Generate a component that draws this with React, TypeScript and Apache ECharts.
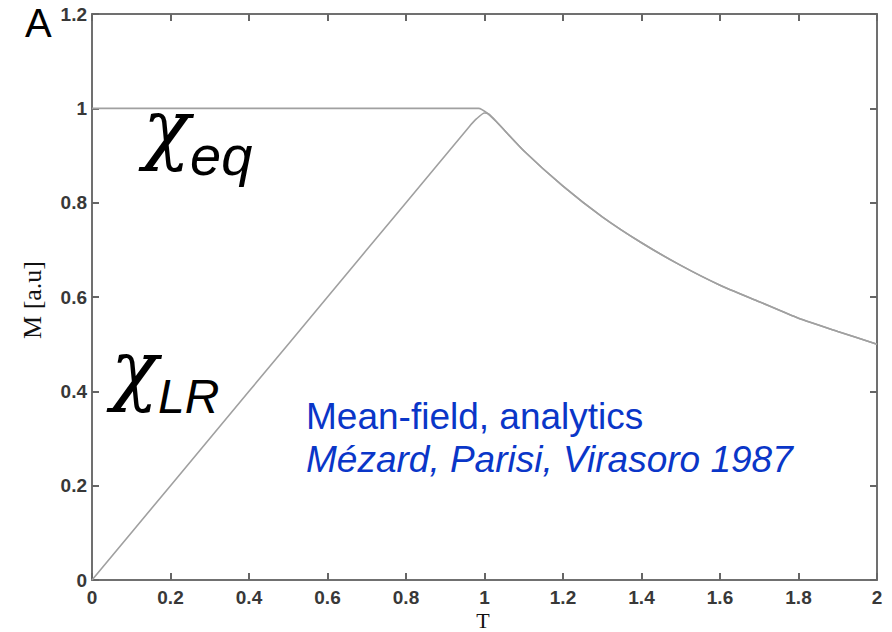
import React, { useEffect, useRef } from "react";
import * as echarts from "echarts";

// Temperature grid and curves: equilibrium and linear-response susceptibility
const tLR = [0, 0.2, 0.4, 0.6, 0.8, 0.96, 0.98, 1.0];
const chiLRLow = [0, 0.2, 0.4, 0.6, 0.8, 0.96, 0.978, 0.99];
const tEqLow = [0, 0.985];
const chiEqLow = [1, 1];
const tHigh = [1.01, 1.03, 1.1, 1.2, 1.3, 1.4, 1.5, 1.6, 1.7, 1.8, 1.9, 2.0];
const chiHigh = [0.988, 0.972, 0.91, 0.835, 0.77, 0.715, 0.667, 0.625, 0.59, 0.555, 0.527, 0.5];

const xTicks = { min: 0, max: 2, interval: 0.2 };
const yTicks = { min: 0, max: 1.2, interval: 0.2 };

const pairs = (xs: number[], ys: number[]) => xs.map((x, i) => [x, ys[i]]);

const AXIS = "#707070";
const CURVE = "#a0a0a0";
const BLUE = "#0a36c8";
const SANS = "'Liberation Sans', Arial, Helvetica, sans-serif";
const SERIF = "'Liberation Serif', 'Times New Roman', serif";
const GREEK = "'DejaVu Serif', serif";

export default function App() {
  const ref = useRef<HTMLDivElement>(null);

  useEffect(() => {
    if (!ref.current) return;
    const chart = echarts.init(ref.current, undefined, { renderer: "svg" });

    const axisLine = { show: true, onZero: false, lineStyle: { color: AXIS, width: 2 } };
    const axisTick = { show: true, inside: true, length: 7, lineStyle: { color: "#666", width: 2 } };
    const labelStyle = { color: "#383838", fontSize: 19, fontWeight: "bold" as const, fontFamily: SANS };

    chart.setOption({
      animation: false,
      backgroundColor: "#ffffff",
      grid: { left: 92, top: 14, right: 15, bottom: 52, containLabel: false },
      xAxis: [
        {
          type: "value",
          ...xTicks,
          position: "bottom",
          axisLine,
          axisTick,
          splitLine: { show: false },
          axisLabel: { ...labelStyle, margin: 8 },
        },
        {
          type: "value",
          ...xTicks,
          position: "top",
          axisLine,
          axisTick,
          splitLine: { show: false },
          axisLabel: { show: false },
        },
      ],
      yAxis: [
        {
          type: "value",
          ...yTicks,
          position: "left",
          axisLine,
          axisTick,
          splitLine: { show: false },
          axisLabel: { ...labelStyle, margin: 5 },
        },
        {
          type: "value",
          ...yTicks,
          position: "right",
          axisLine,
          axisTick,
          splitLine: { show: false },
          axisLabel: { show: false },
        },
      ],
      series: [
        {
          name: "chi_eq",
          type: "line",
          showSymbol: false,
          smooth: 0.2,
          data: [...pairs(tEqLow, chiEqLow), ...pairs(tHigh, chiHigh)],
          lineStyle: { color: CURVE, width: 1.6 },
        },
        {
          name: "chi_LR",
          type: "line",
          showSymbol: false,
          smooth: 0.2,
          data: [...pairs(tLR, chiLRLow), ...pairs(tHigh, chiHigh)],
          lineStyle: { color: CURVE, width: 1.6 },
        },
      ],
      graphic: [
        { type: "text", left: 25, top: 3, style: { text: "A", fontSize: 40, fontFamily: SANS, fill: "#000" } },
        {
          type: "text",
          x: 483,
          y: 620,
          style: { text: "T", fontSize: 22, fontFamily: SERIF, fill: "#111", align: "center", verticalAlign: "middle" },
        },
        {
          type: "text",
          x: 32,
          y: 300,
          rotation: Math.PI / 2,
          style: { text: "M [a.u]", fontSize: 26, fontFamily: SERIF, fill: "#111", align: "center", verticalAlign: "middle" },
        },
        {
          type: "text",
          x: 143,
          y: 128,
          style: { text: "χ", fontSize: 78, fontStyle: "italic", fontFamily: GREEK, fill: "#000", verticalAlign: "middle" },
        },
        {
          type: "text",
          x: 190,
          y: 155,
          style: { text: "eq", fontSize: 56, fontStyle: "italic", fontFamily: SANS, fill: "#000", verticalAlign: "middle" },
        },
        {
          type: "text",
          x: 111,
          y: 369,
          style: { text: "χ", fontSize: 78, fontStyle: "italic", fontFamily: GREEK, fill: "#000", verticalAlign: "middle" },
        },
        {
          type: "text",
          x: 158,
          y: 396,
          style: { text: "LR", fontSize: 48, fontStyle: "italic", fontFamily: SANS, fill: "#000", verticalAlign: "middle" },
        },
        {
          type: "text",
          x: 306,
          y: 416,
          style: { text: "Mean-field, analytics", fontSize: 37, fontFamily: SANS, fill: BLUE, verticalAlign: "middle" },
        },
        {
          type: "text",
          x: 306,
          y: 459,
          style: {
            text: "Mézard, Parisi, Virasoro 1987",
            fontSize: 37,
            fontStyle: "italic",
            fontFamily: SANS,
            fill: BLUE,
            verticalAlign: "middle",
          },
        },
      ],
    });

    return () => chart.dispose();
  }, []);

  return (
    <div
      ref={ref}
      style={{ position: "fixed", left: 0, top: 0, width: 892, height: 632, background: "#fff" }}
    />
  );
}
